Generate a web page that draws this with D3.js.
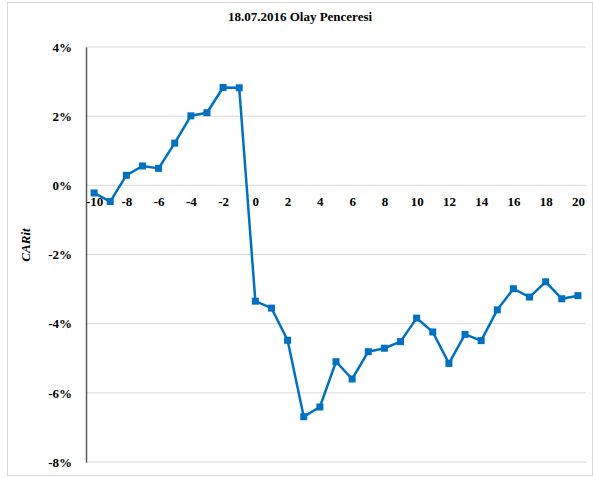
<!DOCTYPE html>
<html>
<head>
<meta charset="utf-8">
<script src="https://cdn.jsdelivr.net/npm/d3@7"></script>
<style>
  body { margin: 0; background: #fff; }
  text { font-family: "Liberation Serif", "Times New Roman", serif; font-weight: bold; }
</style>
</head>
<body>
<svg id="chart" width="593" height="478"></svg>
<script>
// event days and cumulative abnormal returns (%)
const days = d3.range(-10, 21);
const carValues = [
    -0.22, -0.47, 0.29, 0.56, 0.49, 1.22, 2.01, 2.10, 2.83, 2.82,
    -3.35, -3.55, -4.48, -6.69, -6.41, -5.10, -5.60, -4.81, -4.71, -4.52,
    -3.84, -4.24, -5.15, -4.31, -4.49, -3.60, -2.99, -3.23, -2.79, -3.28, -3.19
];
const yTicks = [4, 2, 0, -2, -4, -6, -8];
const xTicks = d3.range(-10, 21, 2);

const svg = d3.select("#chart");

// outer chart frame
svg.append("rect")
    .attr("x", 7.5).attr("y", 2.5)
    .attr("width", 585).attr("height", 473)
    .attr("fill", "#fff").attr("stroke", "#d9d9d9");

const plotLeft = 86, plotRight = 586, plotTop = 47, plotBottom = 462;

const x = d3.scaleLinear().domain([-10.5, 20.5]).range([plotLeft, plotRight]);
const y = d3.scaleLinear().domain([-8, 4]).range([plotBottom, plotTop]);

// horizontal gridlines
svg.append("g")
    .selectAll("line")
    .data(yTicks)
    .join("line")
    .attr("x1", plotLeft).attr("x2", plotRight)
    .attr("y1", d => y(d)).attr("y2", d => y(d))
    .attr("stroke", "#d9d9d9").attr("stroke-width", 1);

// y axis
let yAxis = svg.append("g")
    .attr("transform", "translate(" + plotLeft + ",0)")
    .call(d3.axisLeft(y).tickValues(yTicks).tickSize(0).tickPadding(14)
        .tickFormat(d => d + "%"));
yAxis.select(".domain").attr("stroke", "#595959").attr("stroke-width", 1.5);
yAxis.selectAll("text")
    .attr("font-size", 13).attr("fill", "#000")
    .style("font-family", "Liberation Serif, serif").style("font-weight", "bold");

// x axis labels, sitting under the zero line (plain hyphen like the original)
let xAxis = svg.append("g")
    .attr("transform", "translate(0," + y(0) + ")")
    .call(d3.axisBottom(x).tickValues(xTicks).tickSize(0).tickPadding(11)
        .tickFormat(d => String(d)));
xAxis.select(".domain").remove();
xAxis.selectAll("text")
    .attr("font-size", 13).attr("fill", "#000")
    .style("font-family", "Liberation Serif, serif").style("font-weight", "bold");

// CAR line
const line = d3.line()
    .x((d, i) => x(days[i]))
    .y(d => y(d));

svg.append("path")
    .datum(carValues)
    .attr("d", line)
    .attr("fill", "none")
    .attr("stroke", "#0070c0")
    .attr("stroke-width", 2.5)
    .attr("stroke-linejoin", "round");

svg.append("g")
    .selectAll("rect")
    .data(carValues)
    .join("rect")
    .attr("x", (d, i) => x(days[i]) - 3.5)
    .attr("y", d => y(d) - 3.5)
    .attr("width", 7).attr("height", 7)
    .attr("fill", "#0070c0");

// title
svg.append("text")
    .attr("x", 300).attr("y", 21)
    .attr("text-anchor", "middle")
    .attr("font-size", 13)
    .text("18.07.2016 Olay Penceresi");

// y axis title
svg.append("text")
    .attr("transform", "translate(30,245) rotate(-90)")
    .attr("text-anchor", "middle")
    .attr("font-size", 13)
    .style("font-style", "italic")
    .text("CARit");
</script>
</body>
</html>
